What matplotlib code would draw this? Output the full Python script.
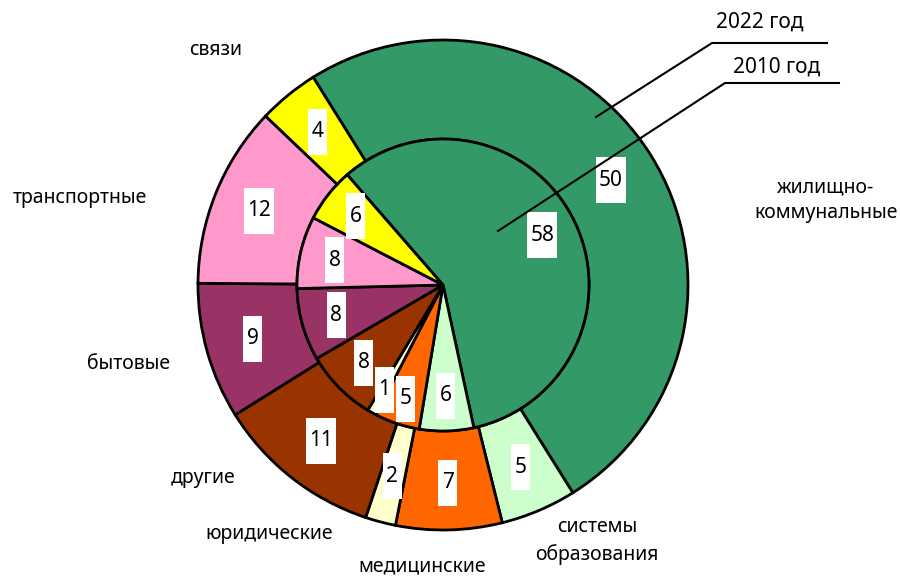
import matplotlib
matplotlib.use("Agg")
import matplotlib.pyplot as plt
from matplotlib.patches import Rectangle
import numpy as np

plt.rcParams['font.family'] = ['Noto Sans', 'DejaVu Sans']

categories = ['жилищно-\nкоммунальные', 'системы\nобразования', 'медицинские',
              'юридические', 'другие', 'бытовые', 'транспортные', 'связи']
values_2022 = [50, 5, 7, 2, 11, 9, 12, 4]
values_2010 = [58, 6, 5, 1, 8, 8, 8, 6]
colors = ['#339966', '#CCFFCC', '#FF6600', '#FFFFCC', '#993300', '#993366', '#FF99CC', '#FFFF00']

# picture geometry in pixels: centre and outer radius
W, H = 900, 576
CX, CY, R = 443, 285, 245


def px(x, y):
    # pixel position -> data coords (1 unit = outer radius)
    return (x - CX) / R, (CY - y) / R


fig = plt.figure(figsize=(9, 5.76), dpi=100)
ax = fig.add_axes([0, 0, 1, 1])
ax.axis('off')

r_in = 146 / R
edge = dict(edgecolor='black', linewidth=2)

outer, _ = ax.pie(values_2022, radius=1, startangle=122, counterclock=False,
                  colors=colors, wedgeprops=dict(width=1 - r_in, **edge))
inner, _ = ax.pie(values_2010, radius=r_in, startangle=131, counterclock=False,
                  colors=colors, wedgeprops=edge)
ax.set_xlim(px(0, 0)[0], px(W, 0)[0])
ax.set_ylim(px(0, H)[1], px(0, 0)[1])
ax.set_aspect('auto')


def value_box(wedge, val, dist):
    ang = np.deg2rad((wedge.theta1 + wedge.theta2) / 2)
    x, y = dist * np.cos(ang), dist * np.sin(ang)
    s = str(val)
    bw = (len(s) * 11 + 8) / R
    bh = 46 / R
    ax.add_patch(Rectangle((x - bw / 2, y - bh / 2), bw, bh, facecolor='white',
                           edgecolor='none', zorder=5))
    ax.text(x, y, s, ha='center', va='center', fontsize=15, zorder=6)


for w, v in zip(outer, values_2022):
    value_box(w, v, (1 + r_in) / 2 + 0.01)
for w, v in zip(inner, values_2010):
    d = 0.82 if v < 6 else 0.76
    value_box(w, v, r_in * d)

# category names around the ring
name_pos = [(826, 200), (597, 541), (422, 566), (269, 534),
            (203, 478), (129, 364), (80, 198), (216, 50)]
for name, (x, y) in zip(categories, name_pos):
    ax.text(*px(x, y), name, ha='center', va='center', fontsize=14,
            linespacing=1.4)

# series callouts
ax.plot(*zip(px(596, 117), px(712, 43), px(827, 43)), color='black', lw=1.5, zorder=7)
ax.text(*px(760, 22), '2022 год', ha='center', va='center', fontsize=15)
ax.plot(*zip(px(498, 231), px(725, 83), px(839, 83)), color='black', lw=1.5, zorder=7)
ax.text(*px(777, 67), '2010 год', ha='center', va='center', fontsize=15)

fig.savefig('out.png', dpi=100)
